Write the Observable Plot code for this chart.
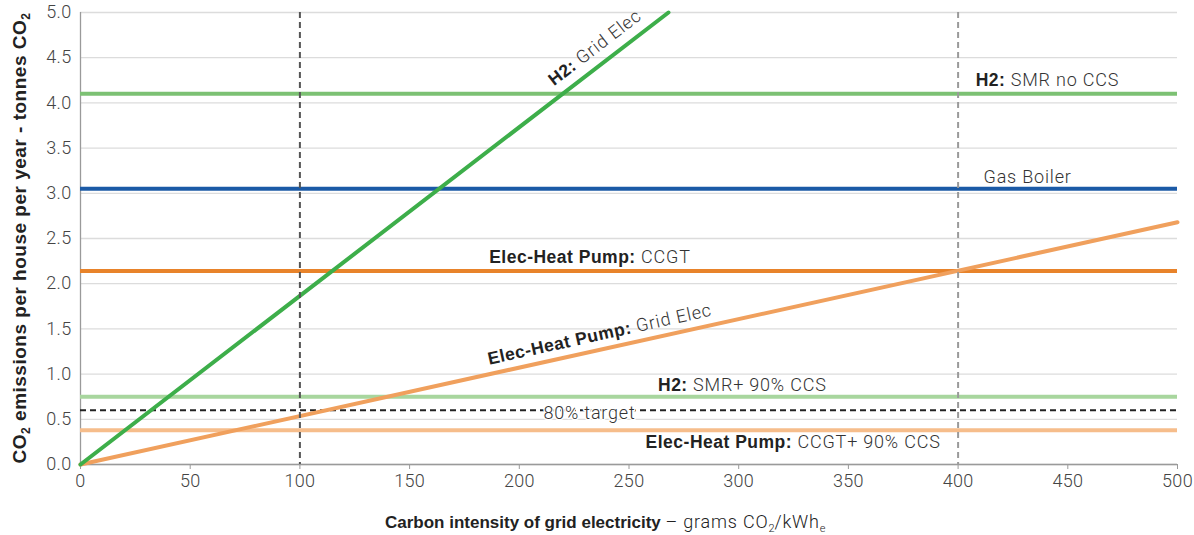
<!DOCTYPE html>
<html><head><meta charset="utf-8">
<script src="https://cdn.jsdelivr.net/npm/d3@7"></script>
<script src="https://cdn.jsdelivr.net/npm/@observablehq/plot@0.6"></script>
<style>
body{margin:0;background:#fff;}
#chart svg{display:block;}
g[aria-label="text"][font-weight="bold"] text{letter-spacing:0.5px;}
g[aria-label="text"][font-weight="300"] text{letter-spacing:0.8px;}
g[aria-label="x-axis tick label"] text, g[aria-label="y-axis tick label"] text{letter-spacing:0.3px;}
</style></head><body><div id="chart"></div>
<script>
// ---- data ----
const xTicks = [0, 50, 100, 150, 200, 250, 300, 350, 400, 450, 500];
const yTicks = [0, 0.5, 1, 1.5, 2, 2.5, 3, 3.5, 4, 4.5, 5];
// grid-electricity scenarios (carbon intensity g/kWh -> t CO2/house/yr)
const h2GridIntensity = [0, 268];
const h2GridEmissions = [0, 5.0];
const hpGridIntensity = [0, 500];
const hpGridEmissions = [0, 2.68];
// fixed-technology scenarios
const flatNames = ["H2: SMR no CCS", "Gas Boiler", "Elec-Heat Pump: CCGT", "H2: SMR+ 90% CCS", "Elec-Heat Pump: CCGT+ 90% CCS"];
const flatValues = [4.1, 3.05, 2.14, 0.75, 0.38];
const targetValue = 0.6;           // 80% target
const refIntensities = [100, 400]; // reference grid intensities

// ---- styles ----
const flatColors = ["#7cc173", "#1b5aa6", "#e8832a", "#a8d69e", "#f6bd8b"];
const h2GridColor = "#3dae4a";
const hpGridColor = "#f0a05d";
const refColors = ["#555555", "#9a9a9a"];
const REG = "Roboto", BOLD = "Liberation Sans";
const FS = 18, FB = 17.5, FT = 18;

// label placement (data units) and split into bold / regular parts
const flatLabelBold = ["H2:\u00a0", "", "Elec-Heat Pump:\u00a0", "H2:\u00a0", "Elec-Heat Pump:\u00a0"];
const flatLabelRest = ["SMR no CCS", "Gas Boiler", "CCGT", "SMR+ 90% CCS", "CCGT+ 90% CCS"];
const flatLabelAt = [[424, 4.25], [411.6, 3.175], [255.5, 2.29], [279.2, 0.874], [326.8, 0.243]];

const W = 1194, H = 535, mL = 80, mR = 17, mT = 12, mB = 71;
const pxX = (W - mL - mR) / 500, pxY = (H - mT - mB) / 5;
const angleOf = (xs, ys) => -Math.atan(((ys[1] - ys[0]) / (xs[1] - xs[0])) * pxY / pxX) * 180 / Math.PI;
const h2Angle = angleOf(h2GridIntensity, h2GridEmissions);
const hpAngle = angleOf(hpGridIntensity, hpGridEmissions);

const flat = flatNames.map((n, i) => ({name: n, value: flatValues[i], color: flatColors[i],
  bold: flatLabelBold[i], rest: flatLabelRest[i], lx: flatLabelAt[i][0], ly: flatLabelAt[i][1]}));
const h2Grid = h2GridIntensity.map((x, i) => ({x, y: h2GridEmissions[i]}));
const hpGrid = hpGridIntensity.map((x, i) => ({x, y: hpGridEmissions[i]}));

const marks = [
  Plot.gridY(yTicks, {stroke: "#dcdcdc", strokeOpacity: 1, strokeWidth: 1.3}),
  Plot.ruleY([0], {stroke: "#9a9a9a", strokeWidth: 1.3}),
  Plot.ruleX([0], {stroke: "#9a9a9a", strokeWidth: 1.3}),
  Plot.axisX({ticks: xTicks, tickSize: 5, tickPadding: 5, stroke: "#9a9a9a", fill: "#444", fontSize: FT, fontWeight: 300, fontFamily: REG, label: null}),
  Plot.axisY({ticks: yTicks, tickSize: 0, tickPadding: 9, tickFormat: d => d.toFixed(1), fill: "#444", fontSize: FT, fontWeight: 300, fontFamily: REG, label: null}),
];
flat.forEach(d => marks.push(Plot.ruleY([d.value], {stroke: d.color, strokeWidth: 4})));
marks.push(Plot.ruleY([targetValue], {stroke: "#222", strokeWidth: 2, strokeDasharray: "6,4"}));
marks.push(Plot.line(hpGrid, {x: "x", y: "y", stroke: hpGridColor, strokeWidth: 4}));
marks.push(Plot.line(h2Grid, {x: "x", y: "y", stroke: h2GridColor, strokeWidth: 4}));
refIntensities.forEach((v, i) => marks.push(Plot.ruleX([v], {stroke: refColors[i], strokeWidth: 2, strokeDasharray: "6,4"})));
// flat labels
marks.push(Plot.text(flat.filter(d => d.bold), {x: "lx", y: "ly", text: "bold", textAnchor: "end", fontFamily: BOLD, fontWeight: "bold", fontSize: FB, fill: "#222"}));
marks.push(Plot.text(flat, {x: "lx", y: "ly", text: "rest", textAnchor: "start", fontFamily: REG, fontWeight: 300, fontSize: FS, fill: "#333"}));
marks.push(Plot.text([{x: 232, y: 0.564, t: "80% target"}], {x: "x", y: "y", text: "t", textAnchor: "middle", fontFamily: REG, fontWeight: 300, fontSize: FS, fill: "#333", stroke: "white", strokeWidth: 3}));
// rotated labels
const rot = [
  {x: 228.5, y: 4.42, b: "H2:\u00a0", r: "Grid Elec", a: h2Angle},
  {x: 253.9, y: 1.466, b: "Elec-Heat Pump:\u00a0", r: "Grid Elec", a: hpAngle}
];
rot.forEach(d => {
  marks.push(Plot.text([d], {x: "x", y: "y", text: "b", rotate: d.a, textAnchor: "end", lineAnchor: "bottom", fontFamily: BOLD, fontWeight: "bold", fontSize: FB, fill: "#222"}));
  marks.push(Plot.text([d], {x: "x", y: "y", text: "r", rotate: d.a, textAnchor: "start", lineAnchor: "bottom", fontFamily: REG, fontWeight: 300, fontSize: FS, fill: "#333"}));
});

const chart = Plot.plot({
  width: W, height: H, marginLeft: mL, marginRight: mR, marginTop: mT, marginBottom: mB,
  x: {domain: [0, 500]}, y: {domain: [0, 5]},
  style: {fontFamily: REG, fontSize: "16px", background: "#fff", overflow: "visible"},
  marks
});
document.getElementById("chart").append(chart);

// axis titles with mixed weights and subscripts
const svg = d3.select(chart);
const xl = svg.append("text").attr("x", 385).attr("y", 528).attr("text-anchor", "start").attr("font-size", 17).attr("fill", "#222");
xl.append("tspan").attr("font-family", BOLD).attr("font-weight", "bold").text("Carbon intensity of grid electricity ");
xl.append("tspan").attr("font-family", REG).attr("font-weight", 300).attr("font-size", 18).style("letter-spacing", "0.8px").text("– grams CO");
xl.append("tspan").attr("font-family", REG).attr("font-weight", 300).attr("font-size", 11).attr("dy", 4).text("2");
xl.append("tspan").attr("font-family", REG).attr("font-weight", 300).attr("font-size", 18).style("letter-spacing", "0.8px").attr("dy", -4).text("/kWh");
xl.append("tspan").attr("font-family", REG).attr("font-weight", 300).attr("font-size", 11).attr("dy", 4).text("e");

const yl = svg.append("text").attr("transform", "translate(26,238) rotate(-90)").attr("text-anchor", "middle")
  .attr("font-size", 19).attr("font-family", BOLD).attr("font-weight", "bold").attr("fill", "#222")
  .style("letter-spacing", "0.5px");
yl.append("tspan").text("CO");
yl.append("tspan").attr("font-size", 12).attr("dy", 4).text("2");
yl.append("tspan").attr("dy", -4).text(" emissions per house per year - tonnes CO");
yl.append("tspan").attr("font-size", 12).attr("dy", 4).text("2");
</script></body></html>
